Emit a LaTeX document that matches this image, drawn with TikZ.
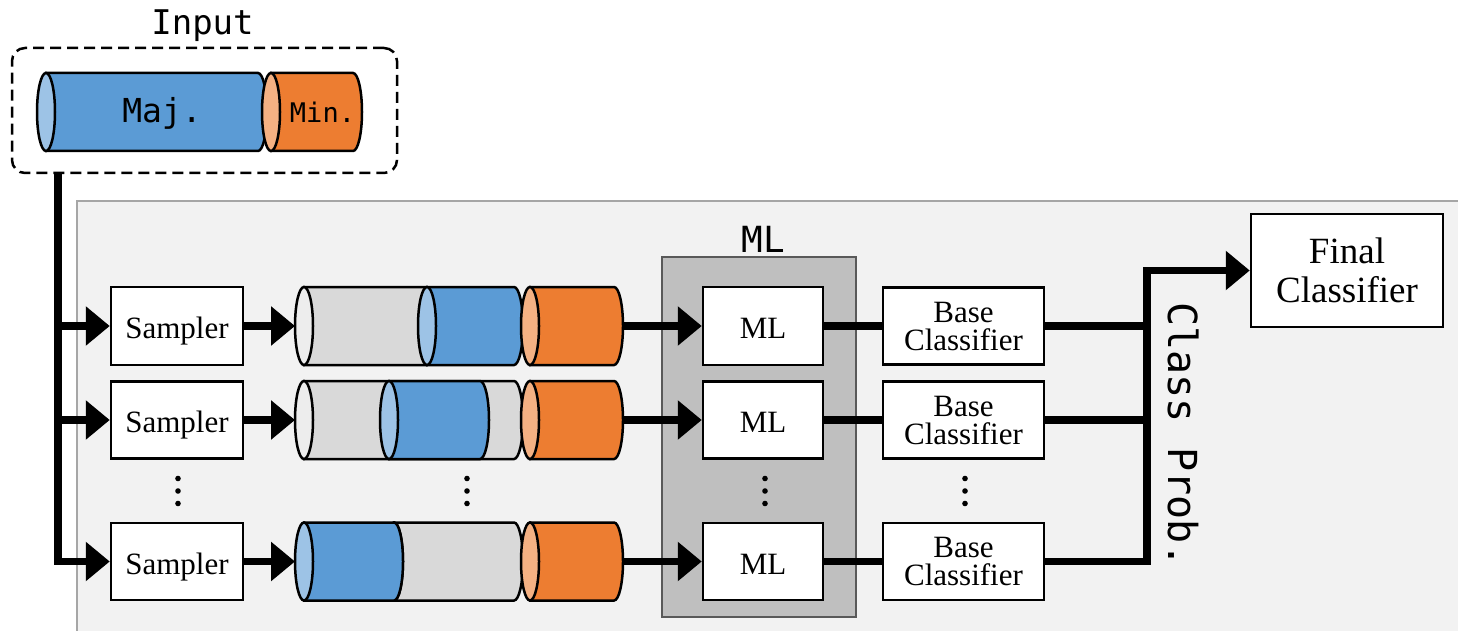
\documentclass[tikz,border=0pt]{standalone}
\usepackage{fontspec}
\setmainfont{Liberation Serif}
\newfontfamily\monofont{DejaVu Sans Mono}
\usetikzlibrary{arrows.meta}
\definecolor{panelbg}{HTML}{F2F2F2}
\definecolor{panelln}{HTML}{A6A6A6}
\definecolor{mlbg}{HTML}{BFBFBF}
\definecolor{mlln}{HTML}{595959}
\definecolor{cblue}{HTML}{5B9BD5}
\definecolor{cbluel}{HTML}{9DC3E6}
\definecolor{corange}{HTML}{ED7D31}
\definecolor{corangel}{HTML}{F4B183}
\definecolor{cgrey}{HTML}{D9D9D9}
\definecolor{cgreyl}{HTML}{EDEDED}
\newcommand\cylseg[5]{%
  \filldraw[cylline,fill=#4] (#1,#3-39) -- (#2,#3-39) arc[start angle=-90,end angle=90,x radius=9,y radius=39] -- (#1,#3+39) -- cycle;
  \filldraw[cylline,fill=#5] (#1,#3) ellipse[x radius=9,y radius=39];
}
\newcommand\vdotsat[2]{%
  \fill (#1,#2-12.5) circle[radius=2.8];
  \fill (#1,#2) circle[radius=2.8];
  \fill (#1,#2+12.5) circle[radius=2.8];
}
\begin{document}
\begin{tikzpicture}[x=1pt,y=-1pt,
  box/.style={draw,line width=2.5pt,fill=white,inner sep=0pt,align=center,font=\fontsize{31}{28}\selectfont},
  oneline/.style={text height=25pt,text depth=0pt},
  conn/.style={line width=7.5pt},
  arr/.style={conn,-{Triangle[length=24pt,width=38pt]}},
  cylline/.style={draw=black,line width=2.5pt},
  monolabel/.style={anchor=base,inner sep=0pt}]
\useasboundingbox (0,0) rectangle (1458,631);
% background panel
\filldraw[fill=panelbg,draw=panelln,line width=2pt] (77,201) rectangle (1475,650);
% input box
\node[draw,dashed,dash pattern=on 11pt off 6pt,line width=2.5pt,rounded corners=13pt,fill=white,minimum width=385pt,minimum height=125pt,inner sep=0pt] (inbox) at (204.5,110.5) {};
\node[monolabel,font=\monofont\fontsize{34}{34}\selectfont] (inlabel) at (202.5,35) {Input};
% input cylinders
\cylseg{46}{258}{112}{cblue}{cbluel}
\cylseg{271}{353}{112}{corange}{corangel}
\node[monolabel,font=\monofont\fontsize{33}{33}\selectfont] (maj) at (162,123) {Maj.};
\node[monolabel,font=\monofont\fontsize{27}{27}\selectfont] (min) at (322.5,123) {Min.};
% row cylinders
\cylseg{304}{427}{326}{cgrey}{cgreyl}
\cylseg{427}{514}{326}{cblue}{cbluel}
\cylseg{530}{614}{326}{corange}{corangel}
\cylseg{304}{514}{420}{cgrey}{cgreyl}
\cylseg{389}{480}{420}{cblue}{cbluel}
\cylseg{530}{614}{420}{corange}{corangel}
\cylseg{394}{514}{561.5}{cgrey}{cgreyl}
\cylseg{304}{394}{561.5}{cblue}{cbluel}
\cylseg{530}{614}{561.5}{corange}{corangel}
\coordinate (c1in) at (295,326);
\coordinate (c2in) at (295,420);
\coordinate (c3in) at (295,561.5);
\coordinate (c1out) at (623,326);
\coordinate (c2out) at (623,420);
\coordinate (c3out) at (623,561.5);
% ML group
\node[draw=mlln,fill=mlbg,line width=2.5pt,minimum width=194pt,minimum height=360pt,inner sep=0pt] (mlgroup) at (759,437) {};
\node[monolabel,font=\monofont\fontsize{36}{36}\selectfont] (mllabel) at (763,252) {ML};
% samplers
\node[box,oneline,minimum width=132pt,minimum height=78pt] (s1) at (177,326) {Sampler};
\node[box,oneline,minimum width=132pt,minimum height=77pt] (s2) at (177,420) {Sampler};
\node[box,oneline,minimum width=132pt,minimum height=77pt] (s3) at (177,561.5) {Sampler};
% ML boxes
\node[box,oneline,minimum width=120pt,minimum height=78pt] (m1) at (763,326) {ML};
\node[box,oneline,minimum width=120pt,minimum height=77pt] (m2) at (763,420) {ML};
\node[box,oneline,minimum width=120pt,minimum height=77pt] (m3) at (763,561.5) {ML};
% base classifiers
\node[box,minimum width=161pt,minimum height=77pt] (b1) at (963.5,326) {Base\\Classifier};
\node[box,minimum width=161pt,minimum height=77pt] (b2) at (963.5,420) {Base\\Classifier};
\node[box,minimum width=161pt,minimum height=77pt] (b3) at (963.5,561.5) {Base\\Classifier};
% final classifier
\node[box,minimum width=192pt,minimum height=113pt,font=\fontsize{37}{39}\selectfont] (final) at (1347,270.5) {Final\\Classifier};
% dots
\vdotsat{178}{491}
\vdotsat{467}{491}
\vdotsat{765}{491}
\vdotsat{965}{491}
% connectors
\coordinate (trunktop) at (58,174);
\draw[arr] (trunktop) |- (s3.west);
\draw[arr] (trunktop |- s1.west) -- (s1.west);
\draw[arr] (trunktop |- s2.west) -- (s2.west);
\draw[arr] (s1.east) -- (c1in);
\draw[arr] (s2.east) -- (c2in);
\draw[arr] (s3.east) -- (c3in);
\draw[arr] (c1out) -- (m1.west);
\draw[arr] (c2out) -- (m2.west);
\draw[arr] (c3out) -- (m3.west);
\draw[conn] (m1.east) -- (b1.west);
\draw[conn] (m2.east) -- (b2.west);
\draw[conn] (m3.east) -- (b3.west);
\coordinate (j) at (1147,270.5);
\draw[arr] (b3.east) -| (j) -- (final.west);
\draw[conn] (b1.east) -- (b1.east -| j);
\draw[conn] (b2.east) -- (b2.east -| j);
\node[rotate=-90,anchor=base,inner sep=0pt,font=\monofont\fontsize{40}{40}\selectfont] (cprob) at (1168,435) {Class Prob.};
\end{tikzpicture}
\end{document}
